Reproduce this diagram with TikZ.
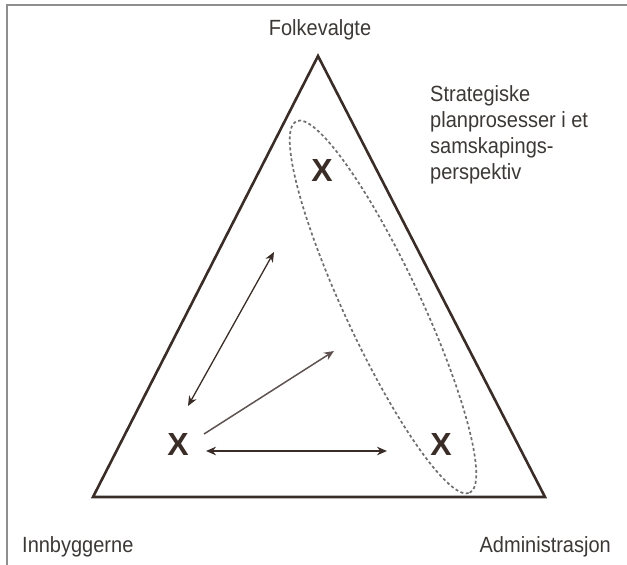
\documentclass[tikz,border=0pt]{standalone}
\usepackage{fontspec}
\setmainfont{Liberation Sans}
\usetikzlibrary{arrows.meta}
\definecolor{ink}{HTML}{3A2C26}
\definecolor{txt}{HTML}{3C3836}
\definecolor{framec}{HTML}{8E8E8E}
\definecolor{dashc}{HTML}{6E6E6E}
\definecolor{arrg}{HTML}{5E5350}
\begin{document}
\begin{tikzpicture}[x=1pt,y=-1pt,
  lbl/.style={font=\fontsize{20}{23.5}\selectfont, text=txt, inner sep=0pt, yscale=1.1},
  cross/.style={font=\fontsize{32}{32}\selectfont\bfseries, text=ink, inner sep=0pt},
  tri/.style={draw=ink, line width=2.6pt, line join=miter},
  tip/.tip={Stealth[length=10pt,width=8.5pt]},
  arr/.style={draw=ink, line width=1.3pt, -tip},
  darr/.style={draw=ink, line width=1.3pt, tip-tip},
]
\useasboundingbox (0,0) rectangle (627,565);
\draw[framec, line width=2pt] (6.5,565) -- (6.5,5) -- (627,5);

\coordinate (top) at (318,56);
\coordinate (bl) at (93,497);
\coordinate (br) at (545,497);
\draw[tri] (top) -- (bl) -- (br) -- cycle;

\node[lbl] (folk) at (320,30) {Folkevalgte};
\node[lbl, anchor=west] (innb) at (22,547) {Innbyggerne};
\node[lbl, anchor=east] (adm) at (611,547) {Administrasjon};
\node[lbl, anchor=west, align=left] (strat) at (430,135)
  {Strategiske\\planprosesser i et\\samskapings-\\perspektiv};

\node[cross] (xt) at (322,170) {X};
\node[cross] (xl) at (178,444) {X};
\node[cross] (xr) at (441,444) {X};

\draw[dashc, line width=1.7pt, dash pattern=on 3pt off 2.5pt,
  shift={(383,307)}, rotate=-65] (0,0) ellipse [x radius=205pt, y radius=38pt];

\coordinate (a1s) at (188,406);
\coordinate (a1e) at (274,252);
\coordinate (a2s) at (204,434);
\coordinate (a2e) at (334,351);
\coordinate (a3s) at (206,451);
\coordinate (a3e) at (387,451);
\draw[darr] (a1s) -- (a1e);
\draw[arr, draw=arrg, line width=1.5pt] (a2s) -- (a2e);
\draw[darr, line width=1.8pt] (a3s) -- (a3e);
\end{tikzpicture}
\end{document}
